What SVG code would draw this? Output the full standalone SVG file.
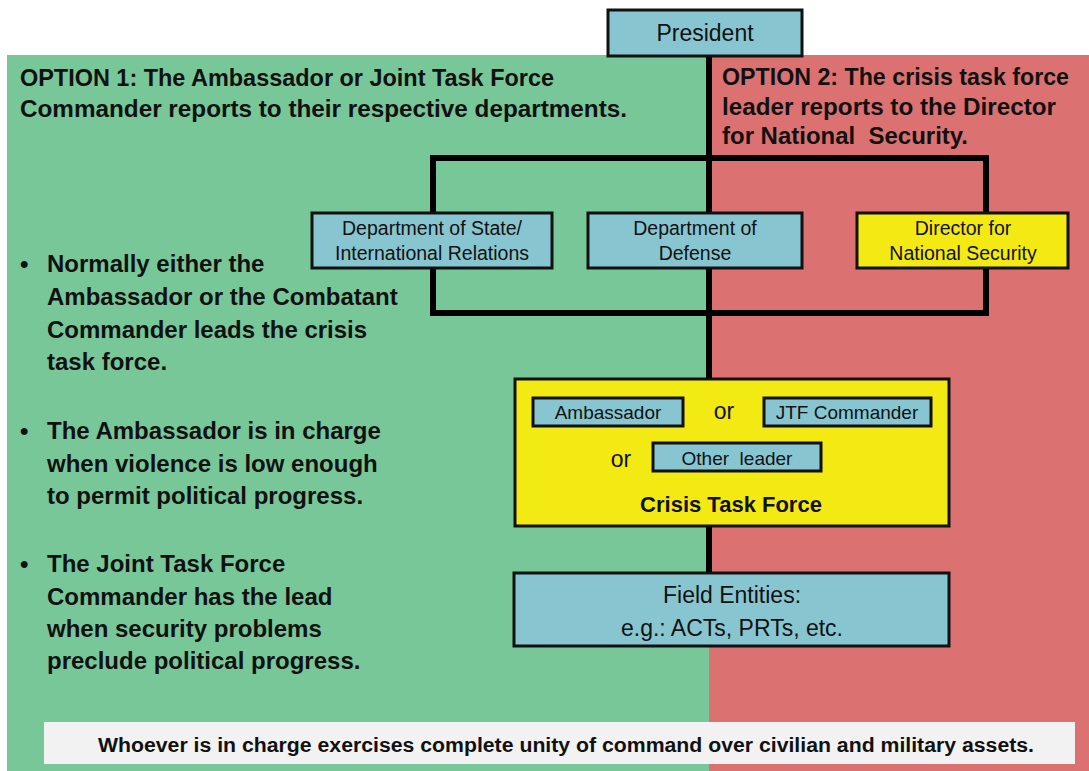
<svg xmlns="http://www.w3.org/2000/svg" width="1089" height="771" viewBox="0 0 1089 771">
<defs>
<style>
.box{stroke:#111;stroke-width:3}
.blue{fill:#87C6D0}
.yel{fill:#F3EA14}
.t{font-family:"Liberation Sans",Arial,sans-serif;fill:#111}
.b{font-weight:bold}
.head{font-family:"Liberation Sans",Arial,sans-serif;font-weight:bold;font-size:23px;fill:#111}
.bul{font-family:"Liberation Sans",Arial,sans-serif;font-weight:bold;font-size:24px;fill:#111}
.dept{font-family:"Liberation Sans",Arial,sans-serif;font-size:19.5px;fill:#111;text-anchor:middle}
.small{font-family:"Liberation Sans",Arial,sans-serif;font-size:19px;fill:#111;text-anchor:middle}
.or{font-family:"Liberation Sans",Arial,sans-serif;font-size:23px;fill:#111;text-anchor:middle}
.conn{fill:none;stroke:#000;stroke-width:6}
</style>
</defs>
<rect x="0" y="0" width="1089" height="771" fill="#ffffff"/>
<g id="backgrounds">
<rect x="7" y="55" width="702" height="716" fill="#78C799"/>
<rect x="709" y="55" width="380" height="716" fill="#DB7171"/>
</g>
<g id="option1-text">
<text class="head" x="20" y="86" textLength="534" lengthAdjust="spacingAndGlyphs">OPTION 1: The Ambassador or Joint Task Force</text>
<text class="head" x="20" y="117" textLength="607" lengthAdjust="spacingAndGlyphs">Commander reports to their respective departments.</text>
</g>
<g id="option2-text">
<text class="head" x="722" y="85" textLength="347" lengthAdjust="spacingAndGlyphs">OPTION 2: The crisis task force</text>
<text class="head" x="722" y="115" textLength="334" lengthAdjust="spacingAndGlyphs">leader reports to the Director</text>
<text class="head" x="722" y="144" textLength="246" lengthAdjust="spacingAndGlyphs" xml:space="preserve">for National  Security.</text>
</g>
<g id="bullets">
<text class="bul" x="20" y="272">•</text>
<text class="bul" x="47" y="272">Normally either the</text>
<text class="bul" x="47" y="305">Ambassador or the Combatant</text>
<text class="bul" x="47" y="338">Commander leads the crisis</text>
<text class="bul" x="47" y="370">task force.</text>
<text class="bul" x="20" y="439">•</text>
<text class="bul" x="47" y="439">The Ambassador is in charge</text>
<text class="bul" x="47" y="472">when violence is low enough</text>
<text class="bul" x="47" y="504">to permit political progress.</text>
<text class="bul" x="20" y="572">•</text>
<text class="bul" x="47" y="572">The Joint Task Force</text>
<text class="bul" x="47" y="605">Commander has the lead</text>
<text class="bul" x="47" y="637">when security problems</text>
<text class="bul" x="47" y="669">preclude political progress.</text>
</g>
<g id="connectors">
<line class="conn" x1="709" y1="56" x2="709" y2="572"/>
<rect class="conn" x="433" y="158" width="553" height="155"/>
</g>
<g id="president">
<rect class="box blue" x="608" y="10" width="194" height="46"/>
<text class="t" x="705" y="41" font-size="23" text-anchor="middle">President</text>
</g>
<g id="dept-state">
<rect class="box blue" x="312" y="213" width="240" height="55"/>
<text class="dept" x="432" y="235">Department of State/</text>
<text class="dept" x="432" y="260">International Relations</text>
</g>
<g id="dept-defense">
<rect class="box blue" x="588" y="213" width="214" height="55"/>
<text class="dept" x="695" y="235">Department of</text>
<text class="dept" x="695" y="260">Defense</text>
</g>
<g id="director">
<rect class="box yel" x="857" y="213" width="211" height="55"/>
<text class="dept" x="963" y="235">Director for</text>
<text class="dept" x="963" y="260">National Security</text>
</g>
<g id="crisis-task-force">
<rect class="box yel" x="515" y="379" width="434" height="147"/>
<rect class="box blue" x="533" y="398" width="150" height="28"/>
<text class="small" x="608" y="419">Ambassador</text>
<text class="or" x="724" y="419">or</text>
<rect class="box blue" x="764" y="398" width="167" height="28"/>
<text class="small" x="847" y="419">JTF Commander</text>
<text class="or" x="621" y="467">or</text>
<rect class="box blue" x="653" y="443" width="168" height="28"/>
<text class="small" x="737" y="465" xml:space="preserve">Other  leader</text>
<text class="t b" x="731" y="512" font-size="22" text-anchor="middle">Crisis Task Force</text>
</g>
<g id="field-entities">
<rect class="box blue" x="514" y="573" width="435" height="73"/>
<text class="t" x="732" y="603" font-size="23" text-anchor="middle">Field Entities:</text>
<text class="t" x="732" y="636" font-size="23" text-anchor="middle">e.g.: ACTs, PRTs, etc.</text>
</g>
<g id="footer">
<rect x="44" y="722" width="1031" height="42" fill="#F2F2F2"/>
<text class="t b" x="566" y="752" font-size="20" text-anchor="middle" textLength="936" lengthAdjust="spacingAndGlyphs">Whoever is in charge exercises complete unity of command over civilian and military assets.</text>
</g>
</svg>
